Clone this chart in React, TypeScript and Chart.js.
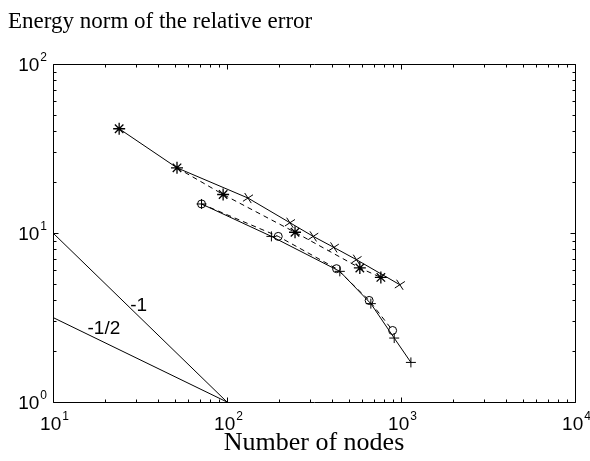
import React, { useEffect, useRef } from "react";
import { Chart, registerables } from "chart.js";

Chart.register(...registerables);

// Data (log-log axes)
const starNodes = [24.0, 51.6, 95, 246, 580, 766];
const starError = [41.4, 24.3, 16.9, 10.1, 6.21, 5.46];

const crossNodes = [51.6, 132, 230, 313, 411, 555, 985];
const crossError = [24.3, 16.1, 11.5, 9.55, 8.22, 6.95, 4.94];

const circleNodes = [71.4, 197, 426, 656, 895];
const circleError = [14.85, 9.55, 6.15, 3.99, 2.65];

const plusNodes = [71.4, 180, 445, 671, 914, 1140];
const plusError = [14.85, 9.55, 5.93, 3.82, 2.39, 1.715];

const slopeNodes = [10, 100];
const slopeMinusOne = [10, 1];
const slopeMinusHalf = [3.162, 1];

const slopeLabels = [
  { text: "-1", node: 31.1, err: 3.71 },
  { text: "-1/2", node: 19.6, err: 2.73 },
];

const xTickExps = [1, 2, 3, 4];
const yTickExps = [0, 1, 2];

const titleText = "Energy norm of the relative error";
const xTitleText = "Number of nodes";

function pts(xs: number[], ys: number[]) {
  return xs.map((v, i) => ({ x: v, y: ys[i] }));
}

const framePlugin = {
  id: "matlabFrame",
  afterDraw(chart: any) {
    const { ctx, chartArea, scales } = chart;
    const { left, right, top, bottom } = chartArea;
    const xs = scales.x;
    const ys = scales.y;
    ctx.save();
    ctx.strokeStyle = "#000";
    ctx.lineWidth = 1;
    const L = Math.round(left) + 0.5;
    const R = Math.round(right) + 0.5;
    const T = Math.round(top) + 0.5;
    const B = Math.round(bottom) + 0.5;
    ctx.beginPath();
    ctx.rect(L, T, R - L, B - T);
    ctx.stroke();

    // ticks
    ctx.beginPath();
    for (let e = 1; e <= 4; e++) {
      for (let m = 1; m <= 9; m++) {
        const v = m * Math.pow(10, e);
        if (v > 10000 || (e === 4 && m > 1)) continue;
        const px = Math.round(xs.getPixelForValue(v)) + 0.5;
        const len = m === 1 ? 5 : 3;
        ctx.moveTo(px, B);
        ctx.lineTo(px, B - len);
        ctx.moveTo(px, T);
        ctx.lineTo(px, T + len);
      }
    }
    for (let e = 0; e <= 2; e++) {
      for (let m = 1; m <= 9; m++) {
        const v = m * Math.pow(10, e);
        if (e === 2 && m > 1) continue;
        const py = Math.round(ys.getPixelForValue(v)) + 0.5;
        const len = m === 1 ? 5 : 3;
        ctx.moveTo(L, py);
        ctx.lineTo(L + len, py);
        ctx.moveTo(R, py);
        ctx.lineTo(R - len, py);
      }
    }
    ctx.stroke();

    // tick labels
    ctx.fillStyle = "#000";
    const baseFont = "19px 'Liberation Sans', Arial, sans-serif";
    const expFont = "12px 'Liberation Sans', Arial, sans-serif";
    ctx.textBaseline = "alphabetic";
    ctx.textAlign = "left";
    const drawPow = (exp: number, cx: number, by: number, mode: string) => {
      ctx.font = baseFont;
      const w1 = ctx.measureText("10").width;
      ctx.font = expFont;
      const w2 = ctx.measureText(String(exp)).width;
      let x0 = mode === "center" ? cx - (w1 + w2) / 2 : cx - (w1 + w2);
      ctx.font = baseFont;
      ctx.fillText("10", x0, by);
      ctx.font = expFont;
      ctx.fillText(String(exp), x0 + w1 + 1, by - 10);
    };
    xTickExps.forEach((e) => {
      const px = xs.getPixelForValue(Math.pow(10, e));
      drawPow(e, px + 1, 430, "center");
    });
    yTickExps.forEach((e) => {
      const py = ys.getPixelForValue(Math.pow(10, e));
      drawPow(e, 46, py + 6.5, "right");
    });

    // slope labels
    ctx.font = "19px 'Liberation Sans', Arial, sans-serif";
    ctx.textAlign = "center";
    ctx.textBaseline = "middle";
    slopeLabels.forEach((s) => {
      ctx.fillText(s.text, xs.getPixelForValue(s.node), ys.getPixelForValue(s.err));
    });

    // titles
    ctx.font = "23px 'Liberation Serif', 'Times New Roman', serif";
    ctx.textAlign = "left";
    ctx.textBaseline = "alphabetic";
    ctx.fillText(titleText, 8, 28);
    ctx.font = "26px 'Liberation Serif', 'Times New Roman', serif";
    ctx.textAlign = "center";
    ctx.fillText(xTitleText, 314, 450);
    ctx.restore();
  },
};

export default function App() {
  const ref = useRef<HTMLCanvasElement | null>(null);
  useEffect(() => {
    document.body.style.margin = "0";
    const canvas = ref.current;
    if (!canvas) return;
    const black = "#000";
    const chart = new Chart(canvas, {
      type: "line",
      data: {
        datasets: [
          {
            data: pts(slopeNodes, slopeMinusOne),
            borderColor: black,
            borderWidth: 1,
            pointRadius: 0,
          },
          {
            data: pts(slopeNodes, slopeMinusHalf),
            borderColor: black,
            borderWidth: 1,
            pointRadius: 0,
          },
          {
            data: pts(crossNodes, crossError),
            borderColor: black,
            borderWidth: 1,
            pointStyle: "crossRot",
            pointRadius: crossNodes.map((_, i) => (i === 0 ? 0 : 6)),
            pointBorderColor: black,
            pointBorderWidth: 1,
            pointRotation: 12,
          },
          {
            data: pts(starNodes, starError),
            borderColor: black,
            borderWidth: 1,
            pointStyle: "star",
            pointRadius: 6,
            pointBorderColor: black,
            pointBorderWidth: 1.3,
            segment: {
              borderDash: (c: any) => (c.p0DataIndex === 0 ? [] : [5, 4]),
            },
          },
          {
            data: pts(circleNodes, circleError),
            borderColor: black,
            borderWidth: 1,
            borderDash: [5, 4],
            pointStyle: "circle",
            pointRadius: 4,
            pointBorderColor: black,
            pointBackgroundColor: "rgba(0,0,0,0)",
            pointBorderWidth: 1,
          },
          {
            data: pts(plusNodes, plusError),
            borderColor: black,
            borderWidth: 1,
            pointStyle: "cross",
            pointRadius: 5,
            pointBorderColor: black,
            pointBorderWidth: 1,
          },
        ],
      },
      options: {
        animation: false,
        responsive: false,
        devicePixelRatio: 1,
        parsing: false as any,
        layout: { padding: { left: 53, top: 64, right: 15, bottom: 59 } },
        plugins: {
          legend: { display: false },
          title: { display: false },
          tooltip: { enabled: false },
        },
        elements: { line: { tension: 0, fill: false } },
        scales: {
          x: { type: "logarithmic", min: 10, max: 10000, display: false },
          y: { type: "logarithmic", min: 1, max: 100, display: false },
        },
      },
      plugins: [framePlugin],
    });
    return () => chart.destroy();
  }, []);
  return (
    <div style={{ width: 590, height: 461, background: "#fff" }}>
      <canvas ref={ref} width={590} height={461} style={{ display: "block" }} />
    </div>
  );
}
